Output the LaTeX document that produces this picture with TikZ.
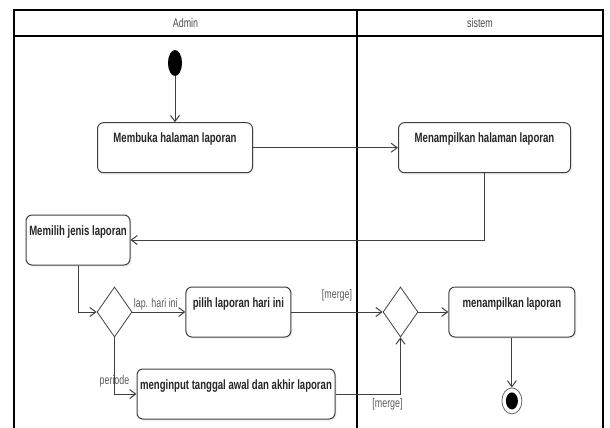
\documentclass[tikz,border=0pt]{standalone}
\usepackage{fontspec}
\setmainfont[FakeStretch=0.71]{Liberation Sans}
\usetikzlibrary{positioning, shapes, arrows.meta, shadows}

\begin{document}
\begin{tikzpicture}[
    x=1pt, y=-1pt,
    lane/.style={draw=black, line width=1.6pt},
    lanetitle/.style={text=black!70, font=\fontsize{12.5}{14}\selectfont},
    actbox/.style={rectangle, rounded corners=6pt, draw=black!75, line width=1pt, fill=white,
        drop shadow={opacity=0.12, shadow xshift=1.5pt, shadow yshift=-2pt},
        font=\fontsize{13.5}{15}\selectfont\bfseries, text=black!85,
        inner xsep=3pt, inner ysep=5pt, text height=15pt, text depth=25pt},
    decision/.style={diamond, draw=black!75, line width=0.8pt,
        minimum width=35pt, minimum height=50pt, inner sep=0pt},
    startnode/.style={ellipse, fill=black, minimum width=14pt, minimum height=26pt, inner sep=0pt},
    endnode/.style={ellipse, draw=black!60, line width=0.8pt, fill=white,
        minimum width=20pt, minimum height=26pt, inner sep=0pt},
    flow/.style={draw=black!75, line width=1pt, -{Straight Barb[length=6pt, width=9pt]}},
    guard/.style={text=black!65, font=\fontsize{12.5}{14}\selectfont, inner sep=1pt}
]
\useasboundingbox (0,0) rectangle (610,428);

% Swimlanes
\draw[lane] (14,430) -- (14,10) -- (603,10) -- (603,430);
\draw[lane] (14,36) -- (603,36);
\draw[line width=1.2pt] (357,10) -- (357,430);
\node[lanetitle] (admin) at (185.5,23) {Admin};
\node[lanetitle] (sistem) at (480,23) {sistem};

% Admin lane
\node[startnode] (start) at (175,63) {};
\node[actbox, minimum width=155pt, below=46pt of start] (membuka) {Membuka halaman laporan};
\node[actbox, minimum width=104pt] (memilih) at (78,240) {Memilih jenis laporan};
\node[decision] (dec1) at (114.5,312) {};
\node[actbox, minimum width=105pt, right=53pt of dec1] (pilih) {pilih laporan hari ini};
\node[actbox, minimum width=198pt] (input) at (236,394) {menginput tanggal awal dan akhir laporan};

% Sistem lane
\node[actbox, minimum width=172pt, right=145pt of membuka] (tampil) {Menampilkan halaman laporan};
\node[decision] (merge) at (400.5,312) {};
\node[actbox, minimum width=126pt, right=30pt of merge] (laporan) {menampilkan laporan};
\node[endnode, below=50pt of laporan] (end) {};
\node[ellipse, fill=black, minimum width=12pt, minimum height=17pt, inner sep=0pt] (endcore) at (end) {};

% Flows
\draw[flow] (start) -- (membuka);
\draw[flow] (membuka) -- (tampil);
\draw[flow] (tampil.south) |- (memilih.east);
\draw[flow] (memilih.south) |- (dec1.west);
\draw[flow] (dec1.east) -- node[guard, pos=0, anchor=south west] {lap. hari ini} (pilih.west);
\draw[flow] (dec1.south) |- node[guard, pos=0.39] {periode} (input.west);
\draw[flow] (pilih.east) -- node[guard, above=9pt] {[merge]} (merge.west);
\draw[flow] (input.east) -| node[guard, pos=0.4, below=3pt] {[merge]} (merge.south);
\draw[flow] (merge.east) -- (laporan.west);
\draw[flow] (laporan.south) -- (end.north);

\end{tikzpicture}
\end{document}
